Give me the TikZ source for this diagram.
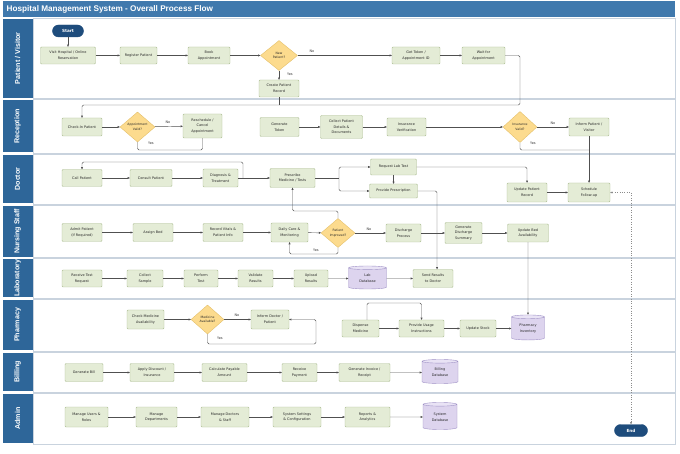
\documentclass[tikz,border=0pt]{standalone}
\usepackage{fontspec}
\setmainfont{DejaVu Sans}
\newfontfamily\titlefont{Liberation Sans}
\usetikzlibrary{arrows.meta,shapes.geometric}
\definecolor{titlebg}{HTML}{4079AD}
\definecolor{lanebg}{HTML}{2E6699}
\definecolor{laneline}{HTML}{C9D3DE}
\definecolor{boxfill}{HTML}{E4ECD6}
\definecolor{boxline}{HTML}{ADBE94}
\definecolor{decfill}{HTML}{FCDB8E}
\definecolor{decline}{HTML}{E5C06A}
\definecolor{dbfill}{HTML}{DDD4EE}
\definecolor{dbend}{HTML}{E9E3F5}
\definecolor{dbline}{HTML}{9F91C6}
\definecolor{termfill}{HTML}{1E4C7C}
\definecolor{linec}{HTML}{505050}
\newcommand\boxfont{\fontsize{3.45}{5.7}\selectfont}
\newcommand\decfont{\fontsize{3.1}{4.6}\selectfont}
\newcommand\termfont{\bfseries\fontsize{4.2}{5}\selectfont}
\newcommand\mylane[4]{%
  \draw[laneline, fill=white, line width=0.5pt] (33,#1) rectangle (675,#2);
  \fill[lanebg] (3,#1+0.8) rectangle (32.5,#2-0.8);
  \node[lanelabel] (#4) at (17.5,{(#1+#2)/2}) {#3};
}
\tikzset{
  box/.style={draw=boxline, fill=boxfill, rounded corners=1pt, minimum height=17, inner sep=1pt, align=center, font=\boxfont, text=black!85, line width=0.4pt},
  dec/.style={diamond, draw=decline, fill=decfill, inner sep=0pt, aspect=1.15, align=center, font=\decfont, text=black!85, line width=0.4pt},
  db/.style={cylinder, shape border rotate=90, aspect=0.22, draw=dbline, cylinder uses custom fill, cylinder body fill=dbfill, cylinder end fill=dbend, inner sep=0pt, align=center, font=\boxfont, text=black!85, line width=0.4pt},
  term/.style={draw=termfill, fill=termfill, rounded corners=6pt, minimum height=12, text=white, font=\termfont},
  lanelabel/.style={rotate=90, text=white, font=\titlefont\bfseries\fontsize{7.1}{8}\selectfont},
  flow/.style={draw=linec, line width=0.45pt, rounded corners=1.5pt, -{Triangle[length=2.2pt,width=2pt]}},
  plain/.style={draw=linec, line width=0.45pt, rounded corners=1.5pt},
  dotflow/.style={draw=black!45, line width=0.4pt, dotted, {Triangle[length=2.2pt,width=2pt]}-{Triangle[length=2.2pt,width=2pt]}},
  lbl/.style={font=\boxfont, inner sep=0pt, text=black!80}
}
\begin{document}
\begin{tikzpicture}[x=1pt,y=-1pt]
\useasboundingbox (0,0) rectangle (680,454);
\fill[white] (0,0) rectangle (680,454);
% title
\fill[titlebg] (3,1.5) rectangle (675,17.5);
\node[anchor=west, text=white, font=\titlefont\bfseries\fontsize{8.2}{9}\selectfont, inner sep=0pt] (title) at (6.5,9.5) {Hospital Management System - Overall Process Flow};
% lanes
\mylane{18}{98.5}{Patient / Visitor}{L1}
\mylane{99.5}{153}{Reception}{L2}
\mylane{154}{204}{Doctor}{L3}
\mylane{205}{257.5}{Nursing Staff}{L4}
\mylane{258.5}{298}{Laboratory}{L5}
\mylane{299}{351}{Pharmacy}{L6}
\mylane{352}{392}{Billing}{L7}
\mylane{393}{444}{Admin}{L8}

% ---------- Patient / Visitor
\node[term, minimum width=31] (start) at (68,31) {Start};
\node[box, minimum width=55] (visit) at (68,55.5) {Visit Hospital / Online\\Reservation};
\node[box, minimum width=37] (register) at (138.5,55.5) {Register Patient};
\node[box, minimum width=42] (book) at (209,55.5) {Book\\Appointment};
\node[dec, minimum width=37, minimum height=30] (newp) at (279,55.5) {New\\Patient?};
\node[box, minimum width=40] (create) at (279,88.5) {Create Patient\\Record};
\node[box, minimum width=48] (token) at (416,55.5) {Get Token /\\Appointment ID};
\node[box, minimum width=43] (wait) at (483.5,55.5) {Wait for\\Appointment};

% ---------- Reception
\node[box, minimum width=40, minimum height=18] (checkin) at (82,127) {Check-In Patient};
\node[dec, minimum width=35, minimum height=30] (apptok) at (137.5,127) {Appointment\\Valid?};
\node[box, minimum width=39, minimum height=24] (resched) at (202.5,126) {Reschedule /\\Cancel\\Appointment};
\node[box, minimum width=39, minimum height=19] (gentoken) at (279.5,127) {Generate\\Token};
\node[box, minimum width=42, minimum height=23] (collect) at (341.5,127) {Collect Patient\\Details \&\\Documents};
\node[box, minimum width=39, minimum height=18] (insver) at (406.5,127) {Insurance\\Verification};
\node[dec, minimum width=34, minimum height=31] (insok) at (520,127) {Insurance\\Valid?};
\node[box, minimum width=40, minimum height=18] (inform) at (589,127) {Inform Patient /\\Visitor};

% ---------- Doctor
\node[box, minimum width=40] (callp) at (82,178) {Call Patient};
\node[box, minimum width=42] (consult) at (151,178) {Consult Patient};
\node[box, minimum width=35, minimum height=18] (diag) at (220.5,178) {Diagnosis \&\\Treatment};
\node[box, minimum width=45, minimum height=19] (prescribe) at (292.5,178) {Prescribe\\Medicine / Tests};
\node[box, minimum width=46, minimum height=16] (reqlab) at (393.5,167) {Request Lab Test};
\node[box, minimum width=48, minimum height=14] (provide) at (393.5,191) {Provide Prescription};
\node[box, minimum width=40, minimum height=19] (updrec) at (527,192.5) {Update Patient\\Record};
\node[box, minimum width=42, minimum height=19] (sched) at (589,192.5) {Schedule\\Follow-up};

% ---------- Nursing Staff
\node[box, minimum width=40, minimum height=18] (admit) at (82,232.5) {Admit Patient\\(If Required)};
\node[box, minimum width=40, minimum height=18] (bed) at (153,232.5) {Assign Bed};
\node[box, minimum width=40, minimum height=18] (vitals) at (223,232.5) {Record Vitals \&\\Patient Info};
\node[box, minimum width=37, minimum height=19] (daily) at (289.5,232.5) {Daily Care \&\\Monitoring};
\node[dec, minimum width=34, minimum height=29] (improved) at (338,233) {Patient\\Improved?};
\node[box, minimum width=35, minimum height=18] (discharge) at (403.5,233) {Discharge\\Process};
\node[box, minimum width=37, minimum height=21] (dsummary) at (463.5,233) {Generate\\Discharge\\Summary};
\node[box, minimum width=41, minimum height=18] (bedav) at (528,233) {Update Bed\\Availability};

% ---------- Laboratory
\node[box, minimum width=40] (rtest) at (82,278.5) {Receive Test\\Request};
\node[box, minimum width=36] (sample) at (145,278.5) {Collect\\Sample};
\node[box, minimum width=34] (perform) at (201,278.5) {Perform\\Test};
\node[box, minimum width=35] (validate) at (255.5,278.5) {Validate\\Results};
\node[box, minimum width=34] (upload) at (311,278.5) {Upload\\Results};
\node[db, minimum width=38, minimum height=23] (labdb) at (367.5,278.5) {Lab\\Database};
\node[box, minimum width=40, minimum height=18] (sendres) at (433,278.5) {Send Results\\to Doctor};

% ---------- Pharmacy
\node[box, minimum width=37, minimum height=19] (checkmed) at (145.5,319.5) {Check Medicine\\Availability};
\node[dec, minimum width=33, minimum height=29] (medok) at (207.5,319.5) {Medicine\\Available?};
\node[box, minimum width=38, minimum height=19] (informdoc) at (270,319.5) {Inform Doctor /\\Patient};
\node[box, minimum width=37] (dispense) at (360.5,328.5) {Dispense\\Medicine};
\node[box, minimum width=45] (usage) at (421.5,328.5) {Provide Usage\\Instructions};
\node[box, minimum width=36] (stock) at (478,328.5) {Update Stock};
\node[db, minimum width=33, minimum height=25] (pharminv) at (528,328.5) {Pharmacy\\Inventory};

% ---------- Billing
\node[box, minimum width=38, minimum height=18] (bill) at (84,372.5) {Generate Bill};
\node[box, minimum width=44, minimum height=18] (discount) at (152,372.5) {Apply Discount /\\Insurance};
\node[box, minimum width=45, minimum height=18] (payable) at (224.5,372.5) {Calculate Payable\\Amount};
\node[box, minimum width=35, minimum height=18] (payment) at (299.5,372.5) {Receive\\Payment};
\node[box, minimum width=51, minimum height=18] (invoice) at (364.5,372.5) {Generate Invoice /\\Receipt};
\node[db, minimum width=36, minimum height=24] (billdb) at (440,372.5) {Billing\\Database};

% ---------- Admin
\node[box, minimum width=43, minimum height=20] (users) at (86.5,417) {Manage Users \&\\Roles};
\node[box, minimum width=41, minimum height=20] (depts) at (156.5,417) {Manage\\Departments};
\node[box, minimum width=48, minimum height=20] (doctors) at (225,417) {Manage Doctors\\\& Staff};
\node[box, minimum width=48, minimum height=20] (settings) at (297,417) {System Settings\\\& Configuration};
\node[box, minimum width=45, minimum height=20] (reports) at (367.5,417) {Reports \&\\Analytics};
\node[db, minimum width=34, minimum height=27] (sysdb) at (440,417) {System\\Database};
\node[term, minimum width=33] (endn) at (631,430.5) {End};

% ================= connectors
% Patient
\draw[flow] (start) -- (visit);
\draw[flow] (visit) -- (register);
\draw[flow] (register) -- (book);
\draw[flow] (book) -- (newp);
\draw[flow] (newp) -- (token);
\node[lbl] (lno1) at (312,51.5) {No};
\draw[flow] (newp) -- (create);
\node[lbl] (lyes1) at (290,74) {Yes};
\draw[flow] (token) -- (wait);
\coordinate (wj) at (520,105);
\draw[flow] (wait.east) -| (wj) -| (checkin.north);
\draw[plain] (create.south) -- (create.south |- wj);

% Reception
\draw[flow] (checkin) -- (apptok);
\draw[flow] (apptok) -- (resched);
\node[lbl] (lno2) at (168,122) {No};
\coordinate (ay) at (137.5,150);
\draw[plain] (apptok.south) -- (ay) -| (resched.south);
\node[lbl] (lyes2) at (151,143.5) {Yes};
\draw[flow] (gentoken) -- (collect);
\draw[flow] (collect) -- (insver);
\draw[flow] (insver) -- (insok);
\draw[flow] (insok) -- (inform);
\node[lbl] (lno3) at (553,123) {No};
\coordinate (iy) at (589,150);
\draw[plain] (insok.south) |- (iy);
\node[lbl] (lyes3) at (533,143.5) {Yes};
\draw[flow] (inform) -- (sched);

% Doctor
\draw[flow] (callp) -- (consult);
\draw[flow] (consult) -- (diag);
\draw[flow] (diag) -- (prescribe);
\coordinate (dloop) at (243,178);
\coordinate (dtop) at (82,162);
\draw[flow] (dloop) |- (dtop) -- (callp.north);
\coordinate (fk) at (339,178);
\draw[plain] (prescribe.east) -- (fk);
\draw[flow] (fk) |- (reqlab.west);
\draw[flow] (fk) |- (provide.west);
\draw[flow] (reqlab) -- (provide);
\draw[flow] (reqlab.east) -| (updrec.north);
\draw[flow] (updrec) -- (sched);
\draw[dotflow] (sched.east) -| (endn.north);
\draw[flow] (provide.east) -| ([xshift=4pt]sendres.north);

% Nursing
\draw[flow] (admit) -- (bed);
\draw[flow] (bed) -- (vitals);
\draw[flow] (vitals) -- (daily);
\draw[flow] (daily) -- (improved);
\draw[flow] (improved) -- (discharge);
\node[lbl] (lno4) at (369,229) {No};
\coordinate (it) at (338,211);
\draw[flow] (improved.north) -- (it) -| (prescribe.south);
\coordinate (ib) at (338,254);
\draw[flow] (improved.south) -- (ib) -| (daily.south);
\node[lbl] (lyes4) at (316,250.5) {Yes};
\draw[flow] (discharge) -- (dsummary);
\draw[flow] (dsummary) -- (bedav);
\draw[flow] (bedav.south) -- (pharminv.north);

% Laboratory
\draw[flow] (rtest) -- (sample);
\draw[flow] (sample) -- (perform);
\draw[flow] (perform) -- (validate);
\draw[flow] (validate) -- (upload);
\draw[flow] (upload) -- (labdb);
\draw[flow] (labdb) -- (sendres);

% Pharmacy
\draw[flow] (checkmed) -- (medok);
\draw[flow] (medok) -- (informdoc);
\node[lbl] (lno5) at (237,315) {No};
\coordinate (py) at (316,344);
\draw[flow] (medok.south) |- (py) |- (informdoc.east);
\node[lbl] (lyes5) at (220,338) {Yes};
\coordinate (dl2) at (367,303);
\draw[flow] (dispense.north -| dl2) -- (dl2) -| (usage.north);
\draw[flow] (dispense) -- (usage);
\draw[flow] (usage) -- (stock);
\draw[flow] (stock) -- (pharminv);

% Billing
\draw[flow] (bill) -- (discount);
\draw[flow] (discount) -- (payable);
\draw[flow] (payable) -- (payment);
\draw[flow] (payment) -- (invoice);
\draw[flow] (invoice) -- (billdb);

% Admin
\draw[flow] (users) -- (depts);
\draw[flow] (depts) -- (doctors);
\draw[flow] (doctors) -- (settings);
\draw[flow] (settings) -- (reports);
\draw[flow] (reports) -- (sysdb);
\end{tikzpicture}
\end{document}
